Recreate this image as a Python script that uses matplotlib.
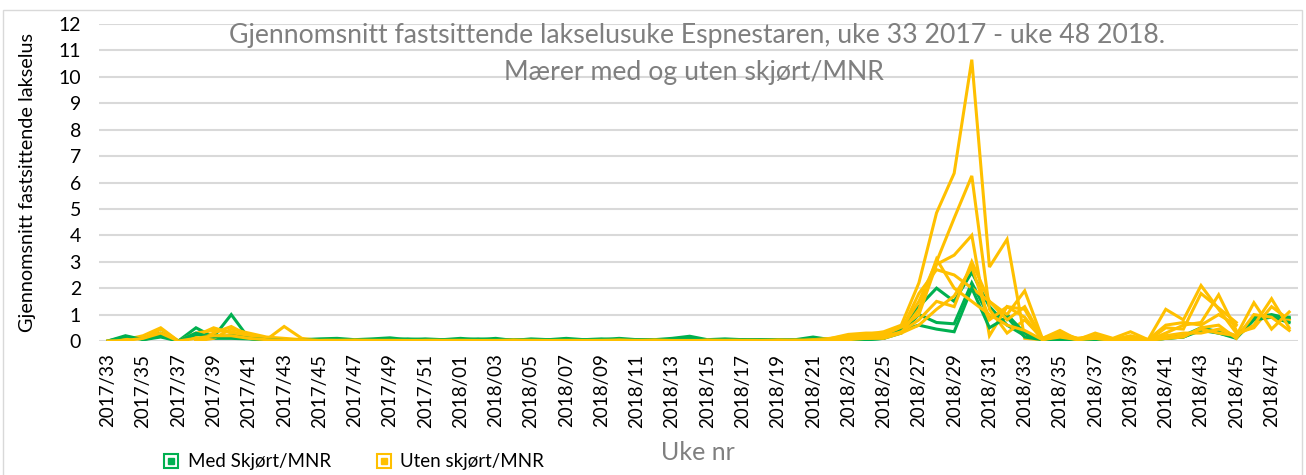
import numpy as np
import matplotlib
matplotlib.use("Agg")
import matplotlib.pyplot as plt
from matplotlib.lines import Line2D
from matplotlib.legend_handler import HandlerTuple
from matplotlib.patches import Rectangle

nan = np.nan

weeks = [f"2017/{w:02d}" for w in range(33, 53)] + [f"2018/{w:02d}" for w in range(1, 49)]

# Med skjørt/MNR (green)
med_1 = [0, 0.15, 0.1, 0.3, 0.0, 0.5, 0.15, 1.0, 0.1, 0.05,
         0.02, 0.05, 0.08, 0.1, 0.05, 0.08, 0.12, 0.05, 0.08, 0.05,
         0.1, 0.05, 0.1, 0.02, 0.08, 0.05, 0.1, 0.05, 0.05, 0.1,
         0.05, 0.05, 0.1, 0.18, 0.05, 0.08, 0.05, 0.05, 0.02, 0.05,
         0.15, 0.05, 0.1, 0.05, 0.15, 0.5, 1.3, 2.0, 1.5, 2.6,
         1.3, 0.6, 0.2, 0.1, 0.05, 0.05, 0.1, 0.05, 0.05, 0.02,
         0.15, 0.2, 0.5, 0.35, 0.15, 0.9, 1.0, 0.85]
med_2 = [0, 0.2, 0.05, 0.15, 0.0, 0.3, 0.1, 0.1, 0.08, 0.02,
         0.0, 0.02, 0.05, 0.05, 0.02, 0.05, 0.05, 0.08, 0.05, 0.05,
         0.05, 0.08, 0.05, 0.05, 0.02, 0.05, 0.05, 0.05, 0.08, 0.05,
         0.02, 0.05, 0.05, 0.1, 0.02, 0.05, 0.05, 0.02, 0.05, 0.02,
         0.05, 0.02, 0.05, 0.05, 0.1, 0.3, 1.0, 0.7, 0.65, 2.2,
         0.9, 1.0, 0.3, 0.05, 0.02, 0.05, 0.05, 0.02, 0.05, 0.02,
         0.1, 0.15, 0.4, 0.3, 0.1, 0.8, 0.9, 0.7]
med_3 = [nan, nan, 0.05, 0.2, 0.0, 0.25, 0.15, 0.2, 0.1, 0.05,
         0.02, 0.02, 0.03, 0.05, 0.03, 0.05, 0.05, 0.05, 0.03, 0.05,
         0.05, 0.05, 0.05, 0.03, 0.05, 0.05, 0.03, 0.05, 0.05, 0.03,
         0.05, 0.03, 0.05, 0.08, 0.03, 0.05, 0.03, 0.05, 0.03, 0.03,
         0.08, 0.05, 0.05, 0.05, 0.1, 0.4, 0.6, 0.45, 0.35, 2.0,
         0.5, 0.9, 0.15, 0.05, 0.05, 0.03, 0.05, 0.03, 0.03, 0.03,
         0.1, 0.15, 0.45, 0.3, 0.15, 0.85, 0.95, 0.9]

# Uten skjørt/MNR (yellow)
uten_1 = [nan, nan, 0.05, 0.45, 0.0, 0.2, 0.5, 0.3, 0.15, 0.05,
          0.55, 0.1, 0.02, 0.05, 0.02, 0.05, 0.02, 0.02, 0.05, 0.02,
          0.02, 0.05, 0.02, 0.02, 0.05, 0.02, 0.02, 0.05, 0.05, 0.02,
          0.05, 0.02, 0.02, 0.05, 0.02, 0.02, 0.05, 0.02, 0.02, 0.05,
          0.05, 0.1, 0.2, 0.25, 0.35, 0.6, 2.2, 4.85, 6.35, 10.65,
          2.8, 3.85, 0.1, 0.05, 0.2, 0.05, 0.1, 0.05, 0.05, 0.02,
          0.5, 0.45, 1.8, 1.25, 0.7, nan, nan, nan]
uten_2 = [0, 0.05, 0.2, 0.5, 0.0, 0.3, 0.4, 0.35, 0.2, 0.1,
          0.05, 0.05, 0.02, 0.02, 0.05, 0.02, 0.05, 0.02, 0.02, 0.05,
          0.02, 0.02, 0.05, 0.02, 0.02, 0.05, 0.02, 0.05, 0.02, 0.05,
          0.02, 0.05, 0.02, 0.02, 0.05, 0.02, 0.02, 0.05, 0.02, 0.02,
          0.05, 0.1, 0.25, 0.3, 0.3, 0.45, 1.5, 3.0, 4.65, 6.25,
          1.2, 0.3, 0.8, 0.1, 0.4, 0.05, 0.3, 0.1, 0.35, 0.05,
          1.2, 0.8, 2.1, 1.2, 0.3, 0.5, 1.3, 0.8]
uten_3 = [nan, nan, nan, nan, nan, 0.0, 0.3, 0.55, 0.2, 0.1,
          0.05, 0.02, 0.02, 0.05, 0.02, 0.02, 0.05, 0.02, 0.02, 0.02,
          0.05, 0.02, 0.02, 0.02, 0.05, 0.02, 0.02, 0.02, 0.05, 0.02,
          0.02, 0.05, 0.02, 0.02, 0.02, 0.05, 0.02, 0.02, 0.05, 0.02,
          0.02, 0.05, 0.15, 0.2, 0.3, 0.5, 1.0, 2.9, 3.25, 4.0,
          0.2, 1.3, 0.9, 0.05, 0.1, 0.02, 0.05, 0.05, 0.1, 0.02,
          0.3, 0.6, 0.7, 1.75, 0.4, nan, nan, nan]
uten_4 = [nan, nan, nan, nan, nan, 0.0, 0.1, 0.45, 0.3, 0.15,
          0.1, 0.05, 0.02, 0.02, 0.02, 0.05, 0.02, 0.02, 0.02, 0.05,
          0.02, 0.02, 0.02, 0.05, 0.02, 0.02, 0.02, 0.02, 0.02, 0.05,
          0.02, 0.02, 0.02, 0.05, 0.02, 0.02, 0.02, 0.02, 0.02, 0.02,
          0.02, 0.05, 0.1, 0.15, 0.2, 0.4, 1.8, 2.7, 2.5, 2.0,
          1.5, 1.0, 1.9, 0.1, 0.3, 0.1, 0.2, 0.05, 0.2, 0.05,
          0.6, 0.7, 0.6, 1.0, 0.6, nan, nan, nan]
uten_5 = [0, 0.02, 0.1, 0.3, 0.0, 0.1, 0.2, 0.2, 0.1, 0.05,
          0.02, 0.02, 0.02, 0.02, 0.02, 0.02, 0.02, 0.02, 0.02, 0.02,
          0.02, 0.02, 0.02, 0.02, 0.02, 0.02, 0.02, 0.02, 0.02, 0.02,
          0.02, 0.02, 0.02, 0.02, 0.02, 0.02, 0.02, 0.02, 0.02, 0.02,
          0.02, 0.02, 0.05, 0.1, 0.1, 0.3, 0.6, 1.2, 1.7, 2.8,
          0.8, 1.3, 1.2, 0.05, 0.15, 0.05, 0.1, 0.02, 0.1, 0.02,
          0.2, 0.3, 0.3, 0.45, 0.2, 1.45, 0.45, 1.1]
uten_6 = [nan, nan, nan, nan, nan, nan, nan, nan, nan, nan,
          nan, nan, nan, nan, nan, nan, nan, nan, nan, nan,
          nan, nan, nan, nan, nan, nan, nan, nan, nan, nan,
          nan, nan, nan, nan, nan, nan, nan, nan, 0.02, 0.02,
          0.05, 0.05, 0.1, 0.15, 0.2, 0.3, 1.2, 3.1, 2.0, 1.5,
          1.0, 0.6, 0.4, 0.05, 0.2, 0.05, 0.15, 0.02, 0.05, 0.02,
          0.1, 0.2, 0.45, 0.3, 0.2, 0.6, 1.6, 0.5]
uten_7 = [nan, nan, nan, nan, nan, nan, nan, nan, nan, nan,
          nan, nan, nan, nan, nan, nan, nan, nan, nan, nan,
          nan, nan, nan, nan, nan, nan, nan, nan, nan, nan,
          nan, nan, nan, nan, nan, nan, nan, nan, nan, nan,
          0.02, 0.05, 0.1, 0.1, 0.15, 0.35, 0.8, 1.5, 1.3, 3.0,
          1.5, 0.8, 1.3, 0.1, 0.25, 0.1, 0.1, 0.05, 0.15, 0.05,
          0.1, 0.15, 0.5, 0.6, 0.1, 1.0, 0.9, 0.4]

GREEN = "#00B050"
YELLOW = "#FFC000"
GREY = "#7F7F7F"
GRID = "#D9D9D9"

plt.rcParams['font.family'] = ['Lato', 'DejaVu Sans']

fig = plt.figure(figsize=(13.06, 4.75), dpi=100)
fig.patches.append(Rectangle((3 / 1306, -0.05), 1299 / 1306, 1.05 - 10 / 475,
                             transform=fig.transFigure, fill=False,
                             edgecolor=GRID, linewidth=1.0))
ax = fig.add_axes([99 / 1306, 1 - 341 / 475, (1298 - 99) / 1306, (341 - 24) / 475])

x = np.arange(len(weeks))
order = [(med_1, GREEN), (uten_1, YELLOW), (uten_2, YELLOW), (med_2, GREEN),
         (uten_3, YELLOW), (uten_4, YELLOW), (med_3, GREEN), (uten_5, YELLOW),
         (uten_6, YELLOW), (uten_7, YELLOW)]
for series, col in order:
    ax.plot(x, series, color=col, linewidth=2.2, solid_joinstyle='miter', zorder=3)

ax.set_xlim(-0.5, len(weeks) - 0.5)
ax.set_ylim(0, 12)
ax.set_yticks(range(0, 13))
ax.set_xticks(x[::2])
ax.set_xticklabels(weeks[::2], rotation=90)
ax.tick_params(axis='x', length=0, labelsize=13.5, pad=9)
ax.tick_params(axis='y', length=0, labelsize=14, pad=13)
ax.grid(axis='y', color=GRID, linewidth=1.5, zorder=0)
for s in ax.spines.values():
    s.set_visible(False)

ax.set_ylabel("Gjennomsnitt fastsittende lakselus", fontsize=14.3, labelpad=16)
fig.text(0.534, 1 - 43 / 475, "Gjennomsnitt fastsittende lakselusuke Espnestaren, uke 33 2017 - uke 48 2018.",
         ha='center', va='baseline', fontsize=19.2, color=GREY)
fig.text(0.531, 1 - 80 / 475, "Mærer med og uten skjørt/MNR",
         ha='center', va='baseline', fontsize=19.2, color=GREY)
fig.text(0.534, 1 - 452 / 475, "Uke nr", ha='center', va='center', fontsize=18, color=GREY)

def key(col):
    outer = Line2D([], [], linestyle='none', marker='s', markersize=10,
                   markerfacecolor='white', markeredgecolor=col, markeredgewidth=1.5)
    inner = Line2D([], [], linestyle='none', marker='s', markersize=5,
                   markerfacecolor=col, markeredgecolor=col)
    return (outer, inner)

fig.legend([key(GREEN), key(YELLOW)], ["Med Skjørt/MNR", "Uten skjørt/MNR"],
           handler_map={tuple: HandlerTuple(ndivide=1, pad=0)},
           loc='center left', bbox_to_anchor=(156 / 1306, 1 - 462 / 475),
           ncol=2, frameon=False, fontsize=13.5, handlelength=0.8,
           handletextpad=0.5, columnspacing=2.4, borderaxespad=0)

fig.savefig("out.png", dpi=100)
